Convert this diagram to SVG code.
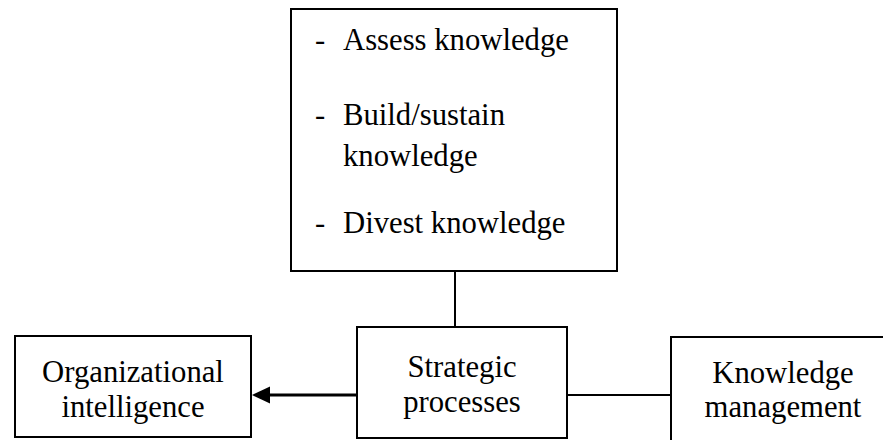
<svg xmlns="http://www.w3.org/2000/svg" width="883" height="440" viewBox="0 0 883 440">
<style>
.box{fill:#fff;stroke:#000;stroke-width:2}
.t{font-family:'Liberation Serif','Times New Roman',serif;font-size:30.7px;fill:#000}
.c{text-anchor:middle}
.ln{stroke:#000;stroke-width:2;fill:none}
</style>
<g id="connectors">
<line class="ln" x1="455" y1="271" x2="455" y2="327"/>
<line class="ln" x1="567" y1="395" x2="671" y2="395"/>
<line x1="357" y1="395" x2="262" y2="395" stroke="#000" stroke-width="3"/>
<path d="M252,395 L270,386.5 L270,403.5 Z" fill="#000"/>
</g>
<g id="activities">
<rect class="box" x="291" y="9" width="326" height="262"/>
<text class="t" x="315" y="50">-</text>
<text class="t" x="343" y="50">Assess knowledge</text>
<text class="t" x="315" y="125">-</text>
<text class="t" x="343" y="125">Build/sustain</text>
<text class="t" x="343" y="166">knowledge</text>
<text class="t" x="315" y="233">-</text>
<text class="t" x="343" y="233">Divest knowledge</text>
</g>
<g id="strategic">
<rect class="box" x="357" y="327" width="210" height="111"/>
<text class="t c" x="462" y="377">Strategic</text>
<text class="t c" x="462" y="412">processes</text>
</g>
<g id="orgintel">
<rect class="box" x="15" y="336" width="236" height="101"/>
<text class="t c" x="133" y="382">Organizational</text>
<text class="t c" x="133" y="417">intelligence</text>
</g>
<g id="km">
<rect class="box" x="671" y="337" width="240" height="120"/>
<text class="t c" x="783" y="383">Knowledge</text>
<text class="t c" x="783" y="417">management</text>
</g>
</svg>
